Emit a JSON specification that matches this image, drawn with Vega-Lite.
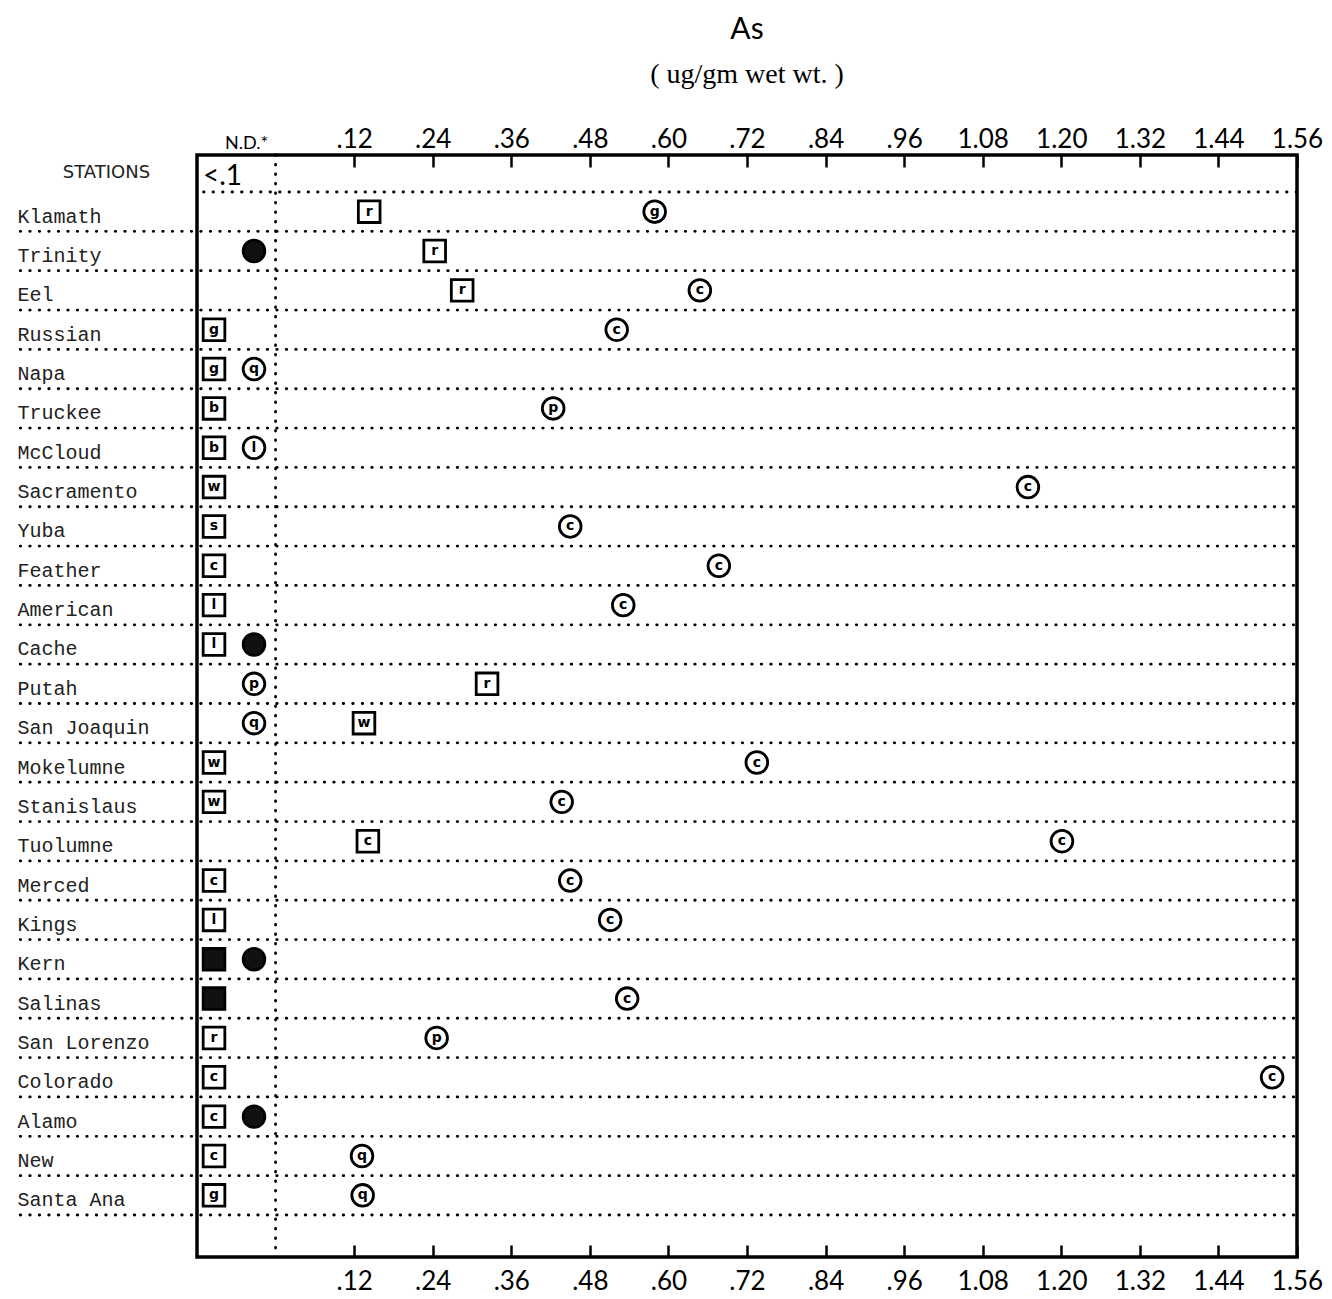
{
  "$schema": "https://vega.github.io/schema/vega-lite/v6.json",
  "autosize": {"type": "none"},
  "width": 1100,
  "height": 1102,
  "padding": {"left": 197, "top": 155, "right": 35, "bottom": 42},
  "background": "white",
  "title": {
    "text": "As",
    "subtitle": "(   ug/gm wet  wt. )",
    "anchor": "middle",
    "font": "Lato",
    "fontSize": 30,
    "fontWeight": "normal",
    "color": "black",
    "subtitleFont": "Liberation Serif",
    "subtitleFontSize": 28,
    "subtitleColor": "black",
    "subtitlePadding": 16,
    "offset": 37
  },
  "config": {
    "view": {"stroke": "black", "strokeWidth": 3.5},
    "axis": {"grid": false, "domain": false},
    "axisY": {
      "ticks": false,
      "labelAlign": "left",
      "labelBaseline": "middle",
      "labelPadding": 180,
      "labelOffset": 5,
      "labelLimit": 0,
      "labelFont": "Liberation Mono",
      "labelFontSize": 20,
      "labelColor": "#222",
      "titleAngle": 0,
      "titleX": -91,
      "titleY": 17,
      "titleAlign": "center",
      "titleBaseline": "middle",
      "titleFont": "DejaVu Sans",
      "titleFontSize": 18,
      "titleFontWeight": "normal",
      "titleColor": "#222"
    }
  },
  "datasets": {
    "stations": [
      {"station": "Klamath"}, {"station": "Trinity"}, {"station": "Eel"}, {"station": "Russian"},
      {"station": "Napa"}, {"station": "Truckee"}, {"station": "McCloud"}, {"station": "Sacramento"},
      {"station": "Yuba"}, {"station": "Feather"}, {"station": "American"}, {"station": "Cache"},
      {"station": "Putah"}, {"station": "San Joaquin"}, {"station": "Mokelumne"}, {"station": "Stanislaus"},
      {"station": "Tuolumne"}, {"station": "Merced"}, {"station": "Kings"}, {"station": "Kern"},
      {"station": "Salinas"}, {"station": "San Lorenzo"}, {"station": "Colorado"}, {"station": "Alamo"},
      {"station": "New"}, {"station": "Santa Ana"}
    ],
    "obs": [
      {"station": "Klamath", "kind": "square", "species": "r", "value": 0.143},
      {"station": "Klamath", "kind": "circle", "species": "g", "value": 0.579},
      {"station": "Trinity", "kind": "circle", "species": null, "value": null},
      {"station": "Trinity", "kind": "square", "species": "r", "value": 0.243},
      {"station": "Eel", "kind": "square", "species": "r", "value": 0.285},
      {"station": "Eel", "kind": "circle", "species": "c", "value": 0.648},
      {"station": "Russian", "kind": "square", "species": "g", "value": null},
      {"station": "Russian", "kind": "circle", "species": "c", "value": 0.521},
      {"station": "Napa", "kind": "square", "species": "g", "value": null},
      {"station": "Napa", "kind": "circle", "species": "q", "value": null},
      {"station": "Truckee", "kind": "square", "species": "b", "value": null},
      {"station": "Truckee", "kind": "circle", "species": "p", "value": 0.424},
      {"station": "McCloud", "kind": "square", "species": "b", "value": null},
      {"station": "McCloud", "kind": "circle", "species": "l", "value": null},
      {"station": "Sacramento", "kind": "square", "species": "w", "value": null},
      {"station": "Sacramento", "kind": "circle", "species": "c", "value": 1.149},
      {"station": "Yuba", "kind": "square", "species": "s", "value": null},
      {"station": "Yuba", "kind": "circle", "species": "c", "value": 0.45},
      {"station": "Feather", "kind": "square", "species": "c", "value": null},
      {"station": "Feather", "kind": "circle", "species": "c", "value": 0.677},
      {"station": "American", "kind": "square", "species": "l", "value": null},
      {"station": "American", "kind": "circle", "species": "c", "value": 0.531},
      {"station": "Cache", "kind": "square", "species": "l", "value": null},
      {"station": "Cache", "kind": "circle", "species": null, "value": null},
      {"station": "Putah", "kind": "circle", "species": "p", "value": null},
      {"station": "Putah", "kind": "square", "species": "r", "value": 0.323},
      {"station": "San Joaquin", "kind": "circle", "species": "q", "value": null},
      {"station": "San Joaquin", "kind": "square", "species": "w", "value": 0.135},
      {"station": "Mokelumne", "kind": "square", "species": "w", "value": null},
      {"station": "Mokelumne", "kind": "circle", "species": "c", "value": 0.735},
      {"station": "Stanislaus", "kind": "square", "species": "w", "value": null},
      {"station": "Stanislaus", "kind": "circle", "species": "c", "value": 0.437},
      {"station": "Tuolumne", "kind": "square", "species": "c", "value": 0.141},
      {"station": "Tuolumne", "kind": "circle", "species": "c", "value": 1.201},
      {"station": "Merced", "kind": "square", "species": "c", "value": null},
      {"station": "Merced", "kind": "circle", "species": "c", "value": 0.45},
      {"station": "Kings", "kind": "square", "species": "l", "value": null},
      {"station": "Kings", "kind": "circle", "species": "c", "value": 0.511},
      {"station": "Kern", "kind": "square", "species": null, "value": null},
      {"station": "Kern", "kind": "circle", "species": null, "value": null},
      {"station": "Salinas", "kind": "square", "species": null, "value": null},
      {"station": "Salinas", "kind": "circle", "species": "c", "value": 0.537},
      {"station": "San Lorenzo", "kind": "square", "species": "r", "value": null},
      {"station": "San Lorenzo", "kind": "circle", "species": "p", "value": 0.246},
      {"station": "Colorado", "kind": "square", "species": "c", "value": null},
      {"station": "Colorado", "kind": "circle", "species": "c", "value": 1.522},
      {"station": "Alamo", "kind": "square", "species": "c", "value": null},
      {"station": "Alamo", "kind": "circle", "species": null, "value": null},
      {"station": "New", "kind": "square", "species": "c", "value": null},
      {"station": "New", "kind": "circle", "species": "q", "value": 0.132},
      {"station": "Santa Ana", "kind": "square", "species": "g", "value": null},
      {"station": "Santa Ana", "kind": "circle", "species": "q", "value": 0.133}
    ]
  },
  "layer": [
    {
      "layer": [
        {
          "data": {"name": "stations"},
          "mark": {"type": "rule", "strokeDash": [0.5, 9], "strokeCap": "round", "strokeWidth": 2.8, "color": "black"},
          "encoding": {
            "y": {"field": "station", "type": "nominal", "title": "STATIONS", "bandPosition": 1,
              "scale": {"type": "band", "domain": ["Klamath","Trinity","Eel","Russian","Napa","Truckee","McCloud","Sacramento","Yuba","Feather","American","Cache","Putah","San Joaquin","Mokelumne","Stanislaus","Tuolumne","Merced","Kings","Kern","Salinas","San Lorenzo","Colorado","Alamo","New","Santa Ana"], "range": [37, 1060], "paddingInner": 0, "paddingOuter": 0}},
            "x": {"datum": -0.39, "type": "quantitative", "scale": {"domain": [-0.12, 1.56], "nice": false, "zero": false}, "axis": null},
            "x2": {"datum": 1.56}
          }
        },
        {
          "data": {"values": [{"station": "Klamath"}]},
          "mark": {"type": "rule", "strokeDash": [0.5, 9], "strokeCap": "round", "strokeWidth": 2.8, "color": "black"},
          "encoding": {
            "y": {"field": "station", "type": "nominal", "title": "STATIONS", "bandPosition": 0,
              "scale": {"type": "band", "domain": ["Klamath","Trinity","Eel","Russian","Napa","Truckee","McCloud","Sacramento","Yuba","Feather","American","Cache","Putah","San Joaquin","Mokelumne","Stanislaus","Tuolumne","Merced","Kings","Kern","Salinas","San Lorenzo","Colorado","Alamo","New","Santa Ana"], "range": [37, 1060], "paddingInner": 0, "paddingOuter": 0}},
            "x": {"datum": -0.11, "type": "quantitative", "scale": {"domain": [-0.12, 1.56], "nice": false, "zero": false}, "axis": null},
            "x2": {"datum": 1.56}
          }
        },
        {
          "data": {"name": "obs"},
          "transform": [{"filter": "datum.value != null"}],
          "mark": {"type": "point", "filled": true, "strokeWidth": 2.8, "opacity": 1},
          "encoding": {
            "y": {"field": "station", "type": "nominal", "title": "STATIONS",
              "scale": {"type": "band", "domain": ["Klamath","Trinity","Eel","Russian","Napa","Truckee","McCloud","Sacramento","Yuba","Feather","American","Cache","Putah","San Joaquin","Mokelumne","Stanislaus","Tuolumne","Merced","Kings","Kern","Salinas","San Lorenzo","Colorado","Alamo","New","Santa Ana"], "range": [37, 1060], "paddingInner": 0, "paddingOuter": 0}},
            "x": {"field": "value", "type": "quantitative", "scale": {"domain": [-0.12, 1.56], "nice": false, "zero": false}, "axis": null},
            "shape": {"field": "kind", "type": "nominal", "scale": {"domain": ["square", "circle"], "range": ["square", "circle"]}, "legend": null},
            "size": {"value": 470},
            "stroke": {"value": "black"},
            "fill": {"condition": {"test": "datum.species == null", "value": "#111"}, "value": "white"}
          }
        },
        {
          "data": {"name": "obs"},
          "transform": [{"filter": "datum.value != null && datum.species != null"}],
          "mark": {"type": "text", "font": "DejaVu Sans", "fontWeight": "bold", "fontSize": 14, "align": "center", "baseline": "middle", "color": "black"},
          "encoding": {
            "y": {"field": "station", "type": "nominal", "title": "STATIONS",
              "scale": {"type": "band", "domain": ["Klamath","Trinity","Eel","Russian","Napa","Truckee","McCloud","Sacramento","Yuba","Feather","American","Cache","Putah","San Joaquin","Mokelumne","Stanislaus","Tuolumne","Merced","Kings","Kern","Salinas","San Lorenzo","Colorado","Alamo","New","Santa Ana"], "range": [37, 1060], "paddingInner": 0, "paddingOuter": 0}},
            "x": {"field": "value", "type": "quantitative", "scale": {"domain": [-0.12, 1.56], "nice": false, "zero": false}, "axis": null},
            "text": {"field": "species"}
          }
        }
      ]
    },
    {
      "data": {"values": [{"station": "Klamath", "note": "<.1"}]},
      "mark": {"type": "text", "align": "left", "baseline": "bottom", "dx": 6, "dy": -1, "font": "Lato", "fontSize": 28, "color": "black"},
      "encoding": {
        "y": {"field": "station", "type": "nominal", "title": "STATIONS", "bandPosition": 0,
          "scale": {"type": "band", "domain": ["Klamath","Trinity","Eel","Russian","Napa","Truckee","McCloud","Sacramento","Yuba","Feather","American","Cache","Putah","San Joaquin","Mokelumne","Stanislaus","Tuolumne","Merced","Kings","Kern","Salinas","San Lorenzo","Colorado","Alamo","New","Santa Ana"], "range": [37, 1060], "paddingInner": 0, "paddingOuter": 0}},
        "x": {"datum": -0.12, "type": "quantitative", "scale": {"domain": [-0.12, 1.56], "nice": false, "zero": false},
          "axis": {
            "orient": "top",
            "title": null,
            "values": [-0.045, 0.12, 0.24, 0.36, 0.48, 0.6, 0.72, 0.84, 0.96, 1.08, 1.2, 1.32, 1.44, 1.56],
            "labelExpr": "datum.value < 0 ? 'N.D.*' : (datum.value < 1 ? replace(format(datum.value, '.2f'), '0.', '.') : format(datum.value, '.2f'))",
            "ticks": true,
            "tickSize": -12,
            "tickWidth": 2.5,
            "tickColor": "black",
            "tickOpacity": {"condition": {"test": "datum.value < 0", "value": 0}, "value": 1},
            "labelFont": "Lato",
            "labelFontSize": {"condition": {"test": "datum.value < 0", "value": 18}, "value": 26},
            "labelColor": "black",
            "labelPadding": 15,
            "labelOverlap": false,
            "labelFlush": false
          }},
        "text": {"field": "note"}
      }
    },
    {
      "data": {"values": [{"mark": "zero line"}]},
      "mark": {"type": "rule", "strokeDash": [0.5, 9], "strokeCap": "round", "strokeWidth": 2.8, "color": "black"},
      "encoding": {
        "x": {"datum": 0, "type": "quantitative", "scale": {"domain": [-0.12, 1.56], "nice": false, "zero": false},
          "axis": {
            "orient": "bottom",
            "title": null,
            "values": [0.12, 0.24, 0.36, 0.48, 0.6, 0.72, 0.84, 0.96, 1.08, 1.2, 1.32, 1.44, 1.56],
            "labelExpr": "datum.value < 1 ? replace(format(datum.value, '.2f'), '0.', '.') : format(datum.value, '.2f')",
            "ticks": true,
            "tickSize": -12,
            "tickWidth": 2.5,
            "tickColor": "black",
            "labelFont": "Lato",
            "labelFontSize": 26,
            "labelColor": "black",
            "labelPadding": 23,
            "labelOverlap": false,
            "labelFlush": false
          }}
      }
    },
    {
      "layer": [
        {
          "data": {"name": "obs"},
          "transform": [{"filter": "datum.value == null"}],
          "mark": {"type": "point", "filled": true, "strokeWidth": 2.8, "opacity": 1},
          "encoding": {
            "y": {"field": "station", "type": "nominal", "title": "STATIONS",
              "scale": {"type": "band", "domain": ["Klamath","Trinity","Eel","Russian","Napa","Truckee","McCloud","Sacramento","Yuba","Feather","American","Cache","Putah","San Joaquin","Mokelumne","Stanislaus","Tuolumne","Merced","Kings","Kern","Salinas","San Lorenzo","Colorado","Alamo","New","Santa Ana"], "range": [37, 1060], "paddingInner": 0, "paddingOuter": 0}},
            "x": {"field": "kind", "type": "nominal", "scale": {"type": "point", "domain": ["square", "circle"], "range": [17, 57], "padding": 0}, "axis": null},
            "shape": {"field": "kind", "type": "nominal", "scale": {"domain": ["square", "circle"], "range": ["square", "circle"]}, "legend": null},
            "size": {"value": 470},
            "stroke": {"value": "black"},
            "fill": {"condition": {"test": "datum.species == null", "value": "#111"}, "value": "white"}
          }
        },
        {
          "data": {"name": "obs"},
          "transform": [{"filter": "datum.value == null && datum.species != null"}],
          "mark": {"type": "text", "font": "DejaVu Sans", "fontWeight": "bold", "fontSize": 14, "align": "center", "baseline": "middle", "color": "black"},
          "encoding": {
            "y": {"field": "station", "type": "nominal", "title": "STATIONS",
              "scale": {"type": "band", "domain": ["Klamath","Trinity","Eel","Russian","Napa","Truckee","McCloud","Sacramento","Yuba","Feather","American","Cache","Putah","San Joaquin","Mokelumne","Stanislaus","Tuolumne","Merced","Kings","Kern","Salinas","San Lorenzo","Colorado","Alamo","New","Santa Ana"], "range": [37, 1060], "paddingInner": 0, "paddingOuter": 0}},
            "x": {"field": "kind", "type": "nominal", "scale": {"type": "point", "domain": ["square", "circle"], "range": [17, 57], "padding": 0}, "axis": null},
            "text": {"field": "species"}
          }
        }
      ]
    }
  ],
  "resolve": {"scale": {"x": "independent"}, "axis": {"x": "independent"}}
}
